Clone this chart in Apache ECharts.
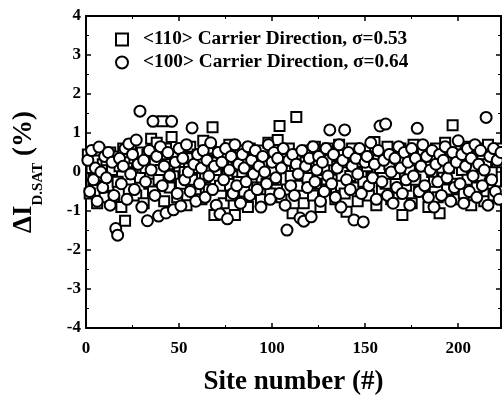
<!DOCTYPE html>
<html>
<head>
<meta charset="utf-8">
<script src="https://cdn.jsdelivr.net/npm/echarts@6/dist/echarts.min.js"></script>
<style>
  html, body { margin: 0; padding: 0; background: #fff; }
  #chart { width: 502px; height: 396px; }
</style>
</head>
<body>
<div id="chart"></div>
<script>
// <110> 方向 (方块)
const squareVals = [
  0.45, -0.55, 0.1, -0.2, 0.35, -0.8, 0.55, -0.1, 0.2, -0.65,
  0.3, -0.35, 0.5, 0.05, -0.7, 0.4, -0.25, 0.15, -0.9, 0.6,
  -1.25, 0.25, -0.45, 0.7, -0.05, 0.35, -0.6, 0.2, -0.15, 0.5,
  -0.8, 0.1, 0.45, -0.3, 0.85, -0.5, 0.25, 0.75, -0.2, 0.05,
  1.3, -0.75, 0.6, 0.2, -0.4, 0.9, -0.1, 0.4, -0.65, 0.15,
  -0.3, 0.55, 0.0, -0.85, 0.35, 0.65, -0.2, 0.1, -0.55, 0.45,
  0.25, -0.7, 0.8, -0.15, 0.3, -0.45, 0.6, 1.15, -1.1, 0.05,
  0.5, -0.35, 0.2, -0.8, 0.4, -0.05, 0.7, -0.6, 0.15, -1.1,
  0.35, -0.25, 0.55, 0.0, -0.5, 0.3, -0.9, 0.6, -0.15, 0.25,
  0.45, -0.4, 0.1, -0.7, 0.55, 0.2, -0.3, 0.75, -0.55, 0.05,
  0.35, -0.2, 0.82, 1.18, -0.65, 0.5, 0.15, -0.45, 0.6, -0.1,
  -1.06, 0.3, 1.41, -0.35, 0.45, 0.0, -0.8, 0.25, -0.15, 0.55,
  0.1, -0.6, 0.65, -0.3, 0.2, -0.9, 0.4, 0.05, -0.45, 0.6,
  0.3, -0.2, 0.5, -0.7, 0.15, 0.7, -0.35, 0.25, -0.55, -1.02,
  0.45, -0.1, 0.6, -0.4, 0.2, -0.75, 0.35, 0.0, -0.25, 0.55,
  0.15, -0.6, 0.4, -0.15, 0.77, -0.85, 0.3, 0.1, -0.45, 0.5,
  -0.3, 0.65, 0.2, -0.7, 0.45, -0.05, 0.35, -0.55, 0.6, -1.1,
  0.25, -0.35, 0.5, 0.05, -0.8, 0.7, -0.2, 0.3, -0.5, 0.15,
  0.55, -0.4, 0.2, -0.9, 0.4, 0.0, -0.25, 0.6, -0.65, -1.06,
  0.35, -0.15, 0.75, -0.45, 0.1, 0.5, 1.2, -0.3, 0.25, -0.7,
  0.45, 0.05, -0.55, 0.65, -0.2, 0.3, -0.85, 0.55, 0.15, -0.4,
  0.6, -0.1, 0.35, -0.75, 0.2, 0.7, -0.3, 0.0, -0.6, 0.45,
  0.25, -0.5, 0.6
]

// <100> 方向 (圆圈)
const circleVals = [
  0.3, -0.5, 0.55, -0.2, 0.1, -0.75, 0.64, 0.0, -0.4, 0.4,
  -0.15, 0.5, -0.85, 0.25, -0.6, -1.45, -1.62, 0.35, -0.3, 0.15,
  0.6, -0.7, 0.72, -0.05, 0.45, -0.45, 0.82, 0.2, 1.56, -0.9,
  0.3, -0.25, -1.25, 0.55, 0.05, 1.3, -0.6, 0.4, -1.13, 0.65,
  -0.35, 0.15, -1.05, 0.5, -0.1, 1.3, -0.97, 0.25, -0.55, 0.6,
  -0.87, 0.35, -0.2, 0.7, 0.0, -0.5, 1.13, 0.2, -0.75, 0.45,
  -0.3, 0.1, 0.55, -0.65, 0.3, -0.1, 0.75, -0.45, 0.15, -0.85,
  0.5, -1.08, 0.25, -0.2, 0.6, -1.2, 0.05, 0.4, -0.55, 0.7,
  -0.35, 0.2, -0.8, 0.45, 0.1, -0.25, 0.65, -0.6, 0.3, -0.05,
  0.55, -0.45, 0.15, -0.9, 0.4, 0.0, -0.3, 0.7, -0.7, 0.25,
  0.5, -0.15, 0.35, -0.55, 0.1, 0.6, -0.85, -1.49, 0.3, -0.35,
  0.45, -0.6, 0.2, -0.05, -1.18, 0.55, -1.26, 0.15, -0.4, 0.35,
  -1.15, 0.65, -0.25, 0.05, 0.4, -0.75, 0.25, -0.5, 0.6, -0.1,
  1.08, -0.3, 0.45, -0.65, 0.1, 0.7, -0.9, 0.3, 1.08, -0.2,
  0.5, -0.45, 0.15, -1.23, 0.35, -0.05, 0.6, -0.55, -1.28, 0.25,
  0.4, -0.35, 0.75, -0.15, 0.2, -0.7, 0.55, 1.18, -0.25, 0.3,
  1.23, -0.6, 0.45, 0.0, -0.8, 0.35, -0.4, 0.65, 0.1, -0.55,
  0.5, -0.2, 0.25, -0.85, 0.6, -0.1, 0.35, 1.12, -0.5, 0.15,
  0.7, -0.35, 0.4, -0.65, 0.05, 0.55, -0.9, 0.2, -0.25, 0.45,
  -0.6, 0.3, 0.65, -0.15, 0.1, -0.75, 0.5, -0.4, 0.25, 0.8,
  -0.3, 0.45, -0.8, 0.15, 0.6, -0.5, 0.35, -0.1, 0.7, -0.65,
  0.2, 0.55, -0.35, 0.05, 1.4, -0.85, 0.4, -0.2, 0.6, -0.5,
  0.3, -0.7, 0.5
]

const seriesNames = ['<110> Carrier Direction, σ=0.53', '<100> Carrier Direction, σ=0.64']

const font = 'Liberation Serif'

const toPoints = vals => vals.map((v, i) => [i + 1, v])

const axisCommon = {
  axisLine: { show: true, onZero: false, lineStyle: { color: '#000', width: 2 } },
  axisTick: { show: true, inside: true, length: 5, lineStyle: { color: '#000', width: 1.5 } },
  minorTick: { show: true, splitNumber: 2, length: 3, lineStyle: { color: '#000', width: 1 } },
  splitLine: { show: false }
}

const chart = echarts.init(document.getElementById('chart'))

chart.setOption({
  animation: false,
  backgroundColor: '#fff',
  grid: { left: 86, top: 16, width: 415, height: 312, containLabel: false, outerBoundsMode: 'none' },
  legend: {
    orient: 'vertical',
    left: 110,
    top: 25,
    itemGap: 4,
    itemWidth: 12,
    itemHeight: 12,
    textStyle: { fontFamily: font, fontWeight: 'bold', fontSize: 19.3, color: '#000', padding: [0, 0, 0, 10] },
    data: seriesNames
  },
  xAxis: [
    Object.assign({}, axisCommon, {
      type: 'value', min: 0, max: 223, interval: 50, position: 'bottom',
      name: 'Site number (#)', nameLocation: 'middle', nameGap: 41,
      nameTextStyle: { fontFamily: font, fontWeight: 'bold', fontSize: 27, color: '#000' },
      axisLabel: { fontFamily: font, fontWeight: 'bold', fontSize: 17, color: '#000', margin: 12, showMaxLabel: false }
    }),
    Object.assign({}, axisCommon, {
      type: 'value', min: 0, max: 223, interval: 50, position: 'top',
      axisLabel: { show: false }
    })
  ],
  yAxis: [
    Object.assign({}, axisCommon, {
      type: 'value', min: -4, max: 4, interval: 1, position: 'left',
      name: '{a|ΔI}{s|D.SAT}{a| (%)}', nameLocation: 'middle', nameGap: 48, nameRotate: 90,
      nameTextStyle: {
        fontFamily: font, fontWeight: 'bold', color: '#000',
        rich: {
          a: { fontFamily: font, fontWeight: 'bold', fontSize: 27, color: '#000', verticalAlign: 'bottom', lineHeight: 32 },
          s: { fontFamily: font, fontWeight: 'bold', fontSize: 15, color: '#000', verticalAlign: 'bottom', lineHeight: 32, padding: [0, 0, -8, 0] }
        }
      },
      axisLabel: { fontFamily: font, fontWeight: 'bold', fontSize: 17, color: '#000', margin: 5 }
    }),
    Object.assign({}, axisCommon, {
      type: 'value', min: -4, max: 4, interval: 1, position: 'right',
      axisLabel: { show: false }
    })
  ],
  series: [
    {
      name: seriesNames[0],
      type: 'scatter',
      symbol: 'rect',
      symbolSize: 10,
      itemStyle: { color: '#fff', borderColor: '#000', borderWidth: 2, opacity: 1 },
      data: toPoints(squareVals)
    },
    {
      name: seriesNames[1],
      type: 'scatter',
      symbol: 'circle',
      symbolSize: 11,
      itemStyle: { color: '#fff', borderColor: '#000', borderWidth: 2, opacity: 1 },
      data: toPoints(circleVals)
    }
  ]
})
</script>
</body>
</html>
